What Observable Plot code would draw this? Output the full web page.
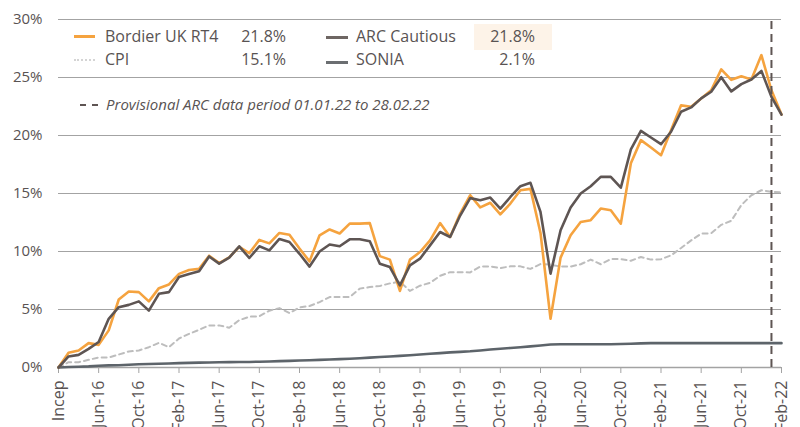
<!DOCTYPE html>
<html>
<head>
<meta charset="utf-8">
<script src="https://cdn.jsdelivr.net/npm/d3@7"></script>
<script src="https://cdn.jsdelivr.net/npm/@observablehq/plot@0.6"></script>
<style>
  html, body { margin: 0; padding: 0; background: #fff; }
  #wrap { position: relative; width: 800px; height: 427px; overflow: hidden; font-family: "Open Sans", sans-serif; color: #595353; }
  .t { position: absolute; font-size: 16px; line-height: 20px; white-space: nowrap; }
  .r { text-align: right; }
  .sw { position: absolute; height: 0; }
</style>
</head>
<body>
<div id="wrap"></div>
<script>
// Month index 0 = inception (Feb-16) ... 72 = Feb-22
const tickIndex = [0,4,8,12,16,20,24,28,32,36,40,44,48,52,56,60,64,68,72];
const tickLabels = ["Incep","Jun-16","Oct-16","Feb-17","Jun-17","Oct-17","Feb-18","Jun-18","Oct-18","Feb-19","Jun-19","Oct-19","Feb-20","Jun-20","Oct-20","Feb-21","Jun-21","Oct-21","Feb-22"];

const bordier = [0,1.27,1.47,2.1,1.95,3.2,5.86,6.55,6.5,5.7,6.84,7.16,8.07,8.4,8.5,9.64,9.0,9.5,10.4,9.86,11.0,10.7,11.6,11.45,10.25,9.15,11.4,11.9,11.55,12.4,12.4,12.45,9.6,9.3,6.6,9.3,9.95,10.96,12.45,11.25,13.27,14.85,13.8,14.2,13.2,14.13,15.28,15.4,11.6,4.2,9.47,11.4,12.55,12.7,13.7,13.56,12.4,17.6,19.6,18.97,18.3,20.46,22.6,22.48,23.2,23.9,25.7,24.8,25.1,24.83,26.93,23.9,21.8];
const arc = [0,0.95,1.09,1.6,2.2,4.2,5.2,5.4,5.7,4.9,6.35,6.5,7.8,8.07,8.3,9.57,8.95,9.47,10.45,9.44,10.45,10.1,11.08,10.82,9.8,8.7,10.0,10.6,10.45,11.05,11.05,10.88,8.95,8.66,7.08,8.8,9.38,10.53,11.68,11.25,13.1,14.6,14.42,14.65,13.7,14.7,15.63,15.92,13.41,8.09,11.83,13.79,15.0,15.63,16.43,16.43,15.5,18.8,20.4,19.83,19.25,20.32,22.05,22.42,23.2,23.77,25.03,23.8,24.43,24.83,25.57,23.33,21.8];
const cpi = [0,0.46,0.46,0.66,0.86,0.86,1.12,1.38,1.47,1.75,2.13,1.75,2.5,2.9,3.25,3.63,3.63,3.43,4.08,4.38,4.42,4.9,5.12,4.69,5.18,5.3,5.64,6.07,6.07,6.07,6.8,6.93,7.03,7.25,7.4,6.6,7.05,7.3,7.9,8.22,8.22,8.2,8.7,8.72,8.57,8.72,8.72,8.5,8.92,8.87,8.7,8.7,8.9,9.3,8.9,9.35,9.35,9.2,9.53,9.3,9.33,9.67,10.3,10.96,11.54,11.57,12.3,12.65,14.0,14.85,15.28,15.14,15.1];
const sonia = [0,0.04,0.07,0.1,0.15,0.18,0.2,0.24,0.28,0.3,0.32,0.35,0.38,0.4,0.42,0.43,0.45,0.46,0.47,0.48,0.5,0.52,0.55,0.57,0.6,0.63,0.66,0.69,0.72,0.76,0.8,0.85,0.9,0.95,1.0,1.06,1.12,1.18,1.24,1.3,1.35,1.4,1.47,1.55,1.62,1.68,1.75,1.82,1.9,1.98,2.0,2.0,2.0,2.0,2.0,2.0,2.02,2.05,2.08,2.1,2.1,2.1,2.1,2.1,2.1,2.1,2.1,2.1,2.1,2.1,2.1,2.1,2.1];
const provisionalStart = 71;

const yTicks = [0,5,10,15,20,25,30];
const gridTicks = [5,10,15,20,25,30];

const idx = d3.range(bordier.length);
const rows = (arr) => idx.map(i => ({i, v: arr[i]}));

const chart = Plot.plot({
  width: 800,
  height: 427,
  marginLeft: 58,
  marginRight: 19,
  marginTop: 19,
  marginBottom: 60,
  style: {fontFamily: "Open Sans", fontSize: "15px", color: "#595353", background: "transparent"},
  x: {domain: [0, 72], label: null},
  y: {domain: [0, 30], label: null},
  marks: [
    Plot.gridY(gridTicks, {stroke: "#a3a3a3", strokeOpacity: 1, strokeWidth: 1.2}),
    Plot.axisY(yTicks, {tickSize: 0, tickPadding: 16, tickFormat: d => d + "%", fill: "#595353", fontSize: 15, label: null}),
    Plot.axisX(tickIndex, {tickSize: 6, tickPadding: 7, tickRotate: -90, stroke: "#a3a3a3", fill: "#595353", fontSize: 16, label: null,
      tickFormat: d => tickLabels[tickIndex.indexOf(d)]}),
    Plot.ruleY([0], {stroke: "#a3a3a3", strokeWidth: 1.5}),
    Plot.line(rows(cpi), {x: "i", y: "v", stroke: "#bdbdbd", strokeWidth: 2, strokeDasharray: "5,4"}),
    Plot.line(rows(sonia), {x: "i", y: "v", stroke: "#5d646a", strokeWidth: 2.6}),
    Plot.line(rows(bordier), {x: "i", y: "v", stroke: "#f5a33f", strokeWidth: 2.6}),
    Plot.line(rows(arc), {x: "i", y: "v", stroke: "#5e5553", strokeWidth: 2.6}),
    Plot.ruleX([provisionalStart], {y1: 0, y2: 30, stroke: "#5e5553", strokeWidth: 2, strokeDasharray: "8,5"})
  ]
});

const wrap = document.getElementById("wrap");
wrap.appendChild(chart);

function add(html) { wrap.insertAdjacentHTML("beforeend", html); }
// legend overlay
add('<div style="position:absolute;left:474px;top:24px;width:78px;height:26px;background:#fdf3e8"></div>');
add('<div class="sw" style="left:74px;top:34.5px;width:21px;border-top:3px solid #f5a33f"></div>');
add('<div class="t" style="left:105px;top:26px">Bordier UK RT4</div>');
add('<div class="t r" style="left:200px;top:26px;width:86px">21.8%</div>');
add('<div class="sw" style="left:74px;top:59px;width:21px;border-top:2px dotted #d4d4d4"></div>');
add('<div class="t" style="left:105px;top:49px">CPI</div>');
add('<div class="t r" style="left:200px;top:49px;width:86px">15.1%</div>');
add('<div class="sw" style="left:326px;top:35.5px;width:22px;border-top:3px solid #6e6663"></div>');
add('<div class="t" style="left:356px;top:26px">ARC Cautious</div>');
add('<div class="t r" style="left:449px;top:26px;width:86px">21.8%</div>');
add('<div class="sw" style="left:326px;top:60.5px;width:22px;border-top:3px solid #6b6e71"></div>');
add('<div class="t" style="left:356px;top:49px">SONIA</div>');
add('<div class="t r" style="left:449px;top:49px;width:86px">2.1%</div>');
add('<div class="sw" style="left:80px;top:104px;width:18px;border-top:2px dashed #5e5553"></div>');
add('<div class="t" style="left:106px;top:94px;font-style:italic;font-size:15px">Provisional ARC data period 01.01.22 to 28.02.22</div>');
</script>
</body>
</html>
